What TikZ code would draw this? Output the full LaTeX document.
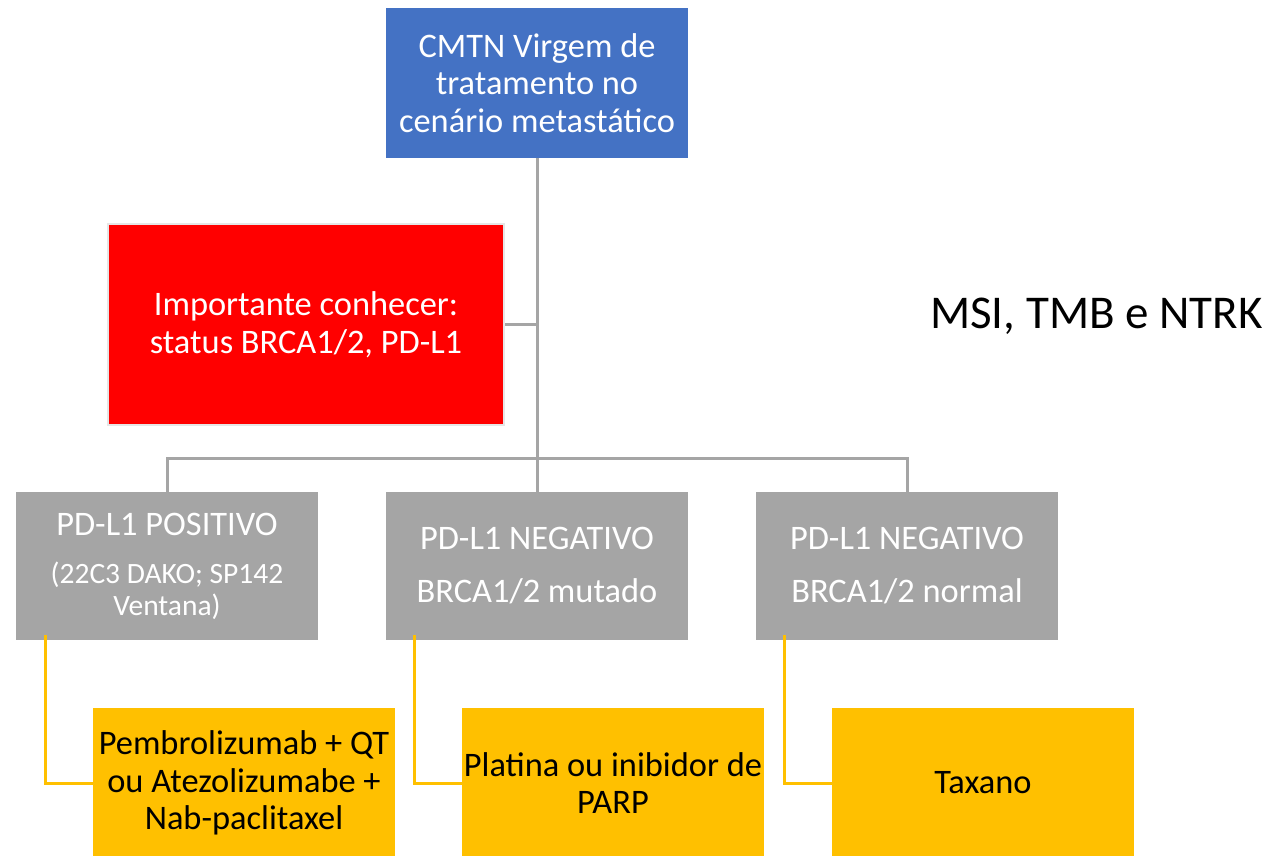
\documentclass[tikz,border=0pt]{standalone}
\usepackage{fontspec}
\setmainfont{Carlito}
\definecolor{blueB}{HTML}{4472C4}
\definecolor{redB}{HTML}{FF0000}
\definecolor{grayB}{HTML}{A5A5A5}
\definecolor{yelB}{HTML}{FFC000}
\definecolor{redEdge}{HTML}{E6E6E6}
\begin{document}
\begin{tikzpicture}[x=1pt,y=-1pt,
  box/.style={rectangle, inner sep=0pt, minimum width=302pt, align=center,
    font=\fontsize{34.4}{37.5}\selectfont},
  topbox/.style={box, fill=blueB, text=white, minimum height=150pt},
  impbox/.style={box, fill=redB, text=white, draw=redEdge, line width=2.5pt,
    minimum width=396pt, minimum height=201pt},
  graybox/.style={box, fill=grayB, text=white, minimum height=148pt},
  yelbox/.style={box, fill=yelB, text=black, minimum height=150pt},
  subtext/.style={font=\fontsize{29.5}{32}\selectfont},
  gline/.style={draw=grayB, line width=3pt},
  yline/.style={draw=yelB, line width=3pt}]
\useasboundingbox (0,0) rectangle (1273,855);

\node[topbox] (top) at (537,83) {CMTN Virgem de\\tratamento no\\cenário metastático};
\node[impbox] (imp) at (306,324.5) {Importante conhecer:\\status BRCA1/2, PD-L1};

\node[graybox] (g1) at (167,566) {PD-L1 POSITIVO\\[10.5pt]{\fontsize{29.5}{32}\selectfont (22C3 DAKO; SP142}\\[-5.5pt]{\fontsize{29.5}{32}\selectfont Ventana)}};
\node[graybox] (g2) at (537,566) {PD-L1 NEGATIVO\\[15.5pt]BRCA1/2 mutado};
\node[graybox] (g3) at (907,566) {PD-L1 NEGATIVO\\[15.5pt]BRCA1/2 normal};

\node[yelbox] (y1) at (244,783) {Pembrolizumab + QT\\ou Atezolizumabe +\\Nab-paclitaxel};
\node[yelbox] (y2) at (613,783) {Platina ou inibidor de\\PARP};
\node[yelbox] (y3) at (983,783) {Taxano};

\node[font=\fontsize{47}{50}\selectfont, anchor=base west, inner sep=0pt] (msi) at (930,328) {MSI, TMB e NTRK};

\coordinate (bus) at (537,458);
\draw[gline] (top.south) -- (g2.north);
\draw[gline] (imp.east) -- (imp.east -| top.south);
\draw[gline] (g1.north) |- (bus) -| (g3.north);

\draw[yline] ([xshift=30pt,yshift=5pt]g1.south west) |- (y1.west);
\draw[yline] ([xshift=29pt,yshift=5pt]g2.south west) |- (y2.west);
\draw[yline] ([xshift=29pt,yshift=5pt]g3.south west) |- (y3.west);
\end{tikzpicture}
\end{document}
